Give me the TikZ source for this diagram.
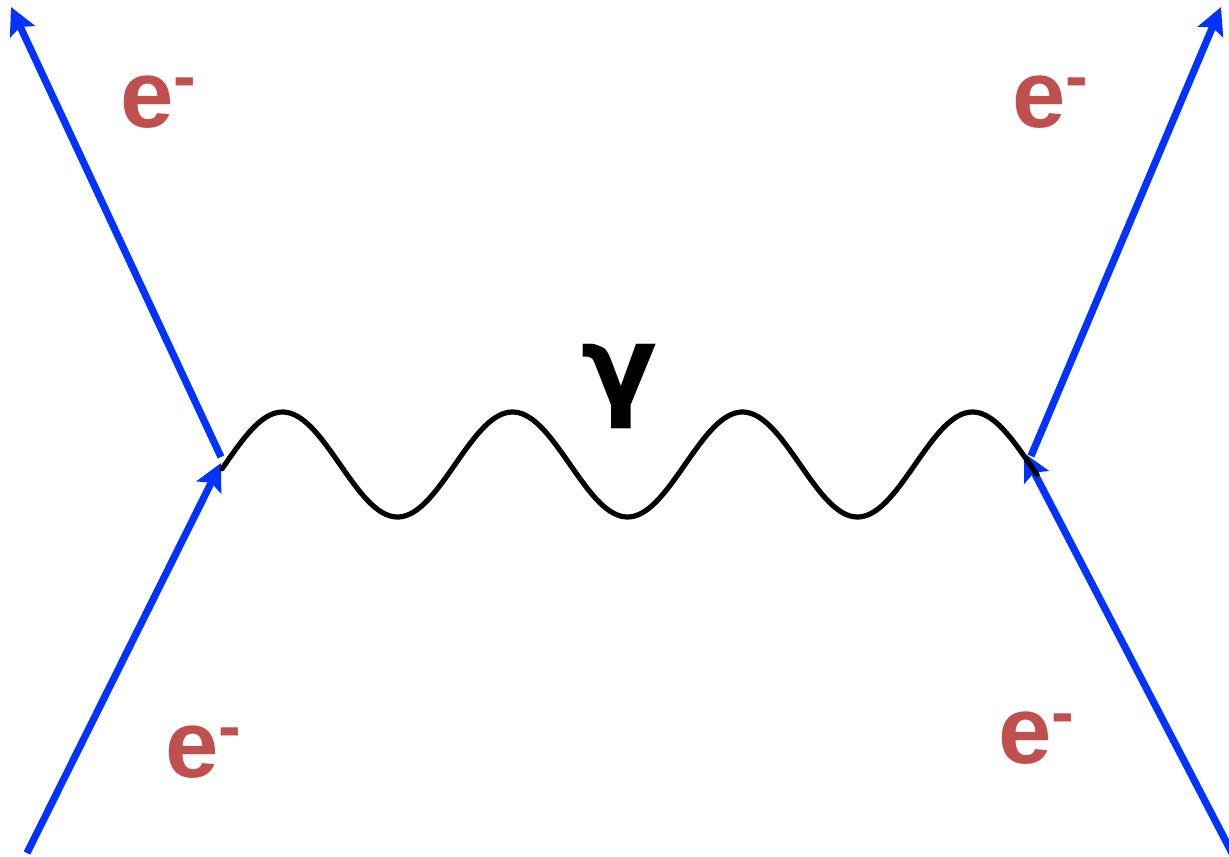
\documentclass[tikz,border=0pt]{standalone}
\usepackage{fontspec}
\setmainfont{Liberation Sans}
\newfontfamily\gfont{DejaVu Sans}
\usetikzlibrary{arrows.meta}
\definecolor{eblue}{RGB}{0,51,255}
\definecolor{ered}{RGB}{192,80,77}
\tikzset{
  fermion/.style={draw=eblue, line width=3.6pt, -{Stealth[length=13.5pt,width=13.5pt,inset=2.5pt]}},
  elabel/.style={text=ered, inner sep=0pt, anchor=base west, font=\bfseries\fontsize{48}{50}\selectfont},
  photon/.style={draw=black, line width=2.6pt},
  glabel/.style={text=black, inner sep=0pt, font=\gfont\bfseries\fontsize{56}{58}\selectfont}
}
\newcommand{\elec}{e\raisebox{14pt}{\fontsize{34}{34}\selectfont -}}
\begin{document}
\begin{tikzpicture}[x=0.5pt,y=-0.5pt]
\useasboundingbox (0,0) rectangle (1229,856);
% coordinates
\coordinate (vL) at (221,463);
\coordinate (vLtop) at (221,457);
\coordinate (vR) at (1024,453);
\coordinate (vRtop) at (1031,456);
\coordinate (inL) at (27,853);
\coordinate (outL) at (11,7);
\coordinate (inR) at (1232,853);
\coordinate (outR) at (1221,7);
% fermion lines
\draw[fermion] (inL) -- (vL);
\draw[fermion] (vLtop) -- (outL);
\draw[fermion] (inR) -- (vR);
\draw[fermion] (vRtop) -- (outR);
% photon
\draw[photon, line cap=round] plot[domain=222:1037, samples=240, smooth] (\x, {464.5 - 52.5*sin((\x-225)/230*360)});
% labels
\node[elabel] (e1) at (120,127) {\elec};
\node[elabel] (e2) at (1012,127) {\elec};
\node[elabel] (e3) at (165,777) {\elec};
\node[elabel] (e4) at (998,763) {\elec};
\node[glabel] (g) at (620,387) {γ};
\end{tikzpicture}
\end{document}
